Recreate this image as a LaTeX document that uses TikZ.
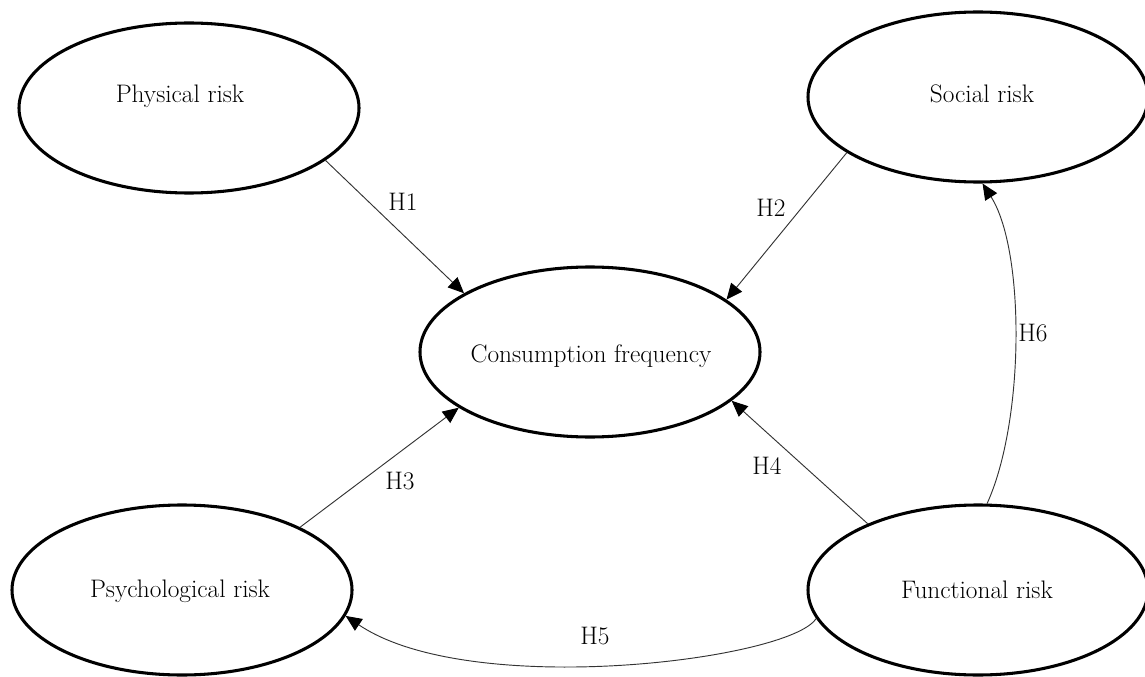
\documentclass[tikz,border=0pt]{standalone}
\usetikzlibrary{shapes.geometric,arrows.meta}
\begin{document}
\begin{tikzpicture}[x=0.75pt,y=-0.75pt,
  ell/.style={ellipse,draw,line width=2.3pt,minimum width=255pt,minimum height=127.5pt,inner sep=0pt},
  txt/.style={font=\fontsize{19}{22}\selectfont,inner sep=0pt},
  conn/.style={draw=black!80,line width=0.7pt,-{Triangle[length=12pt,width=10.5pt,color=black]}},
  hlab/.style={font=\fontsize{19}{22}\selectfont,inner sep=0pt}]
\useasboundingbox (0,0) rectangle (1145,677);
% ellipses
\node[ell] (phys) at (189,108) {};
\node[ell] (soc)  at (978,97) {};
\node[ell] (cons) at (590,352) {};
\node[ell] (psy)  at (182,590) {};
\node[ell] (func) at (978,590) {};
% texts
\node[txt] (tphys) at (180,96) {Physical risk};
\node[txt] (tsoc)  at (982,94) {Social risk};
\node[txt] (tcons) at (591,356) {Consumption frequency};
\node[txt] (tpsy)  at (180,591) {Psychological risk};
\node[txt] (tfunc) at (977,590) {Functional risk};
% connectors
\draw[conn] (phys.-21.6) -- (cons.155.2);
\draw[conn] (soc.203.1) -- (cons.21.1);
\draw[conn] (psy.28.9) -- (cons.203.7);
\draw[conn] (func.149.1) -- (cons.-19.1);
\draw[conn] (func.190.6) .. controls (790,660) and (470,700) .. (psy.-9.1);
\draw[conn] (func.84.1) .. controls (1025,420) and (1025,250) .. (soc.-87.3);
% labels
\node[hlab] (h1) at (403,202) {H1};
\node[hlab] (h2) at (771,208) {H2};
\node[hlab] (h3) at (400,481) {H3};
\node[hlab] (h4) at (767,466) {H4};
\node[hlab] (h5) at (595,636) {H5};
\node[hlab] (h6) at (1033,333) {H6};
\end{tikzpicture}
\end{document}
